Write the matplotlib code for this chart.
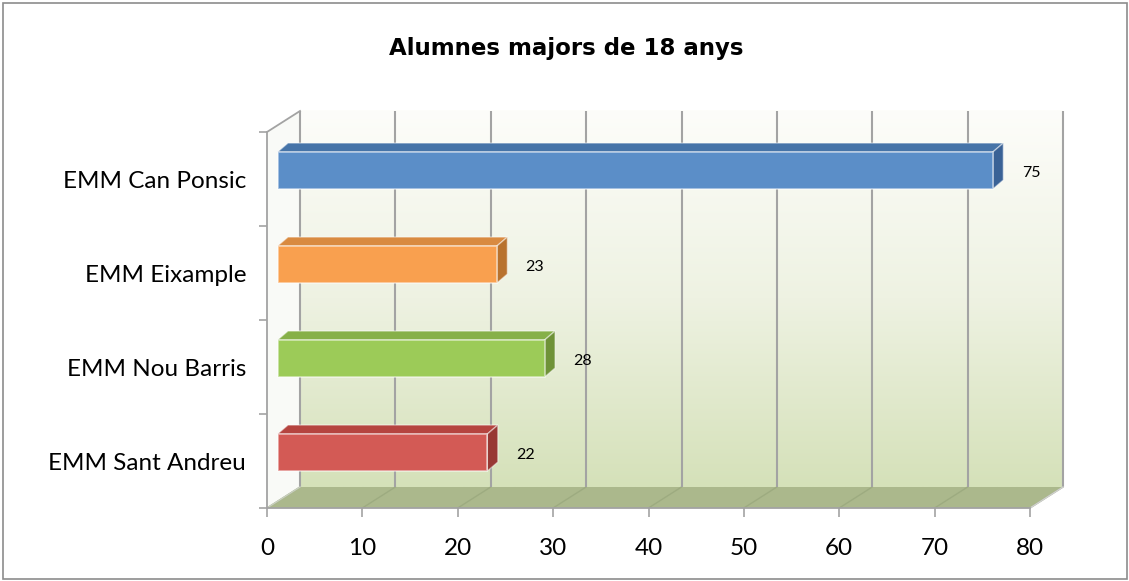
import numpy as np
import matplotlib
matplotlib.use("Agg")
import matplotlib.pyplot as plt
from matplotlib.patches import Polygon, Rectangle
from matplotlib.colors import to_rgb

# ---- data ----
title = "Alumnes majors de 18 anys"
categories = ["EMM Can Ponsic", "EMM Eixample", "EMM Nou Barris", "EMM Sant Andreu"]
values = [75, 23, 28, 22]
x_ticks = [0, 10, 20, 30, 40, 50, 60, 70, 80]

front_colors = ["#5b8ec8", "#f9a04f", "#9ccb58", "#d35a55"]
top_colors = ["#4674a8", "#d98a40", "#86b048", "#b5443f"]
side_colors = ["#3a6296", "#b8722e", "#6f9238", "#983834"]

# ---- figure geometry ----
W, H = 1129, 581
fig = plt.figure(figsize=(W / 100, H / 100), dpi=100)
fig.patch.set_facecolor("white")
ax = fig.add_axes([267 / W, (H - 508) / H, 763 / W, 376 / H])
xmax = x_ticks[-1]
ncat = len(categories)

px_x = 763 / xmax      # pixels per x unit
px_y = 376 / ncat      # pixels per category
DX = 33 / px_x         # depth offset of the back wall
DY = 21 / px_y
OX = 10.5 / px_x       # bar front-face offset
BDX = 10.5 / px_x      # bar depth
BDY = 9 / px_y
BH = 37 / px_y         # bar thickness
BY = 0.09              # bar vertical shift due to depth

# back wall gradient
n = 256
t = np.linspace(0, 1, n)[:, None]
c_top = np.array(to_rgb("#fdfdfa"))
c_mid = np.array(to_rgb("#eef2e2"))
c_bot = np.array(to_rgb("#d5e1b9"))
rows = np.where(t < 0.5, c_top + (c_mid - c_top) * (t / 0.5),
                c_mid + (c_bot - c_mid) * ((t - 0.5) / 0.5))
img = np.repeat(rows[:, None, :], 2, axis=1)
im = ax.imshow(img, extent=[DX, xmax + DX, DY, ncat + DY], origin="upper",
               aspect="auto", zorder=0, interpolation="bilinear")
im.set_clip_on(False)

# left wall
ax.add_patch(Polygon([(0, 0), (DX, DY), (DX, ncat + DY), (0, ncat)], closed=True,
                     facecolor="#f9faf7", edgecolor="none", zorder=0.5, clip_on=False))
# floor
ax.add_patch(Polygon([(0, 0), (xmax, 0), (xmax + DX, DY), (DX, DY)], closed=True,
                     facecolor="#abb88c", edgecolor="none", zorder=1, clip_on=False))

gcol = "#a3a3a3"
for xv in x_ticks:
    ax.plot([xv + DX, xv + DX], [DY, ncat + DY], color=gcol, lw=1.5, zorder=2,
            clip_on=False, solid_capstyle="butt")
    ax.plot([xv, xv + DX], [0, DY], color="#9dab80", lw=1.0, zorder=1.5, clip_on=False)

# wall outline lines
ax.plot([0, DX], [ncat, ncat + DY], color=gcol, lw=1.3, zorder=2, clip_on=False)
ax.plot([0, DX], [0, DY], color="#c9cfc0", lw=1.0, zorder=2, clip_on=False)
ax.plot([xmax, xmax + DX], [0, DY], color="#d0d0d0", lw=1.0, zorder=2, clip_on=False)

# bars
for i, (v, fc, tc, sc) in enumerate(zip(values, front_colors, top_colors, side_colors)):
    yc = ncat - i - 0.5 + BY
    b = yc - BH / 2
    top = b + BH
    ax.add_patch(Polygon([(OX, top), (OX + v, top), (OX + v + BDX, top + BDY),
                          (OX + BDX, top + BDY)], closed=True, facecolor=tc,
                         edgecolor=(1, 1, 1, 0.45), lw=1.0, zorder=3, clip_on=False))
    ax.add_patch(Polygon([(OX + v, b), (OX + v + BDX, b + BDY), (OX + v + BDX, top + BDY),
                          (OX + v, top)], closed=True, facecolor=sc,
                         edgecolor=(1, 1, 1, 0.45), lw=1.0, zorder=3, clip_on=False))
    ax.add_patch(Rectangle((OX, b), v, BH, facecolor=fc,
                           edgecolor=(1, 1, 1, 0.55), lw=1.2, zorder=4, clip_on=False))
    ax.text(OX + v + 4.0, yc - 0.03, str(v), ha="center", va="center",
            fontsize=11.5, family="Lato", color="black", zorder=5)

# axes
ax.set_xlim(0, xmax)
ax.set_ylim(0, ncat)
for s in ["top", "right"]:
    ax.spines[s].set_visible(False)
for s in ["left", "bottom"]:
    ax.spines[s].set_color(gcol)
    ax.spines[s].set_linewidth(1.3)
    ax.spines[s].set_zorder(6)
ax.set_xticks(x_ticks)
ax.set_xticklabels([str(v) for v in x_ticks], fontsize=17.5, family="Lato")
ax.tick_params(axis="x", length=6.5, width=1.2, color=gcol, pad=15)
ax.set_yticks(range(ncat + 1))
ax.set_yticklabels([])
ax.tick_params(axis="y", which="major", length=6, width=1.2, color=gcol)
ax.set_yticks([ncat - i - 0.5 for i in range(ncat)], minor=True)
ax.set_yticklabels(categories, minor=True, fontsize=17.5, family="Lato")
ax.tick_params(axis="y", which="minor", length=0, pad=15)
ax.set_facecolor("none")

fig.text(566 / W, 1 - 49 / H, title, ha="center", va="center", fontsize=16.5,
         fontweight="bold", family="DejaVu Sans")

# chart border
fig.patches.append(Rectangle((2.5 / W, 2.5 / H), 1 - 5 / W, 1 - 5 / H, transform=fig.transFigure,
                             fill=False, edgecolor="#8c8c8c", lw=1.2))

fig.savefig("out.png", dpi=100)
